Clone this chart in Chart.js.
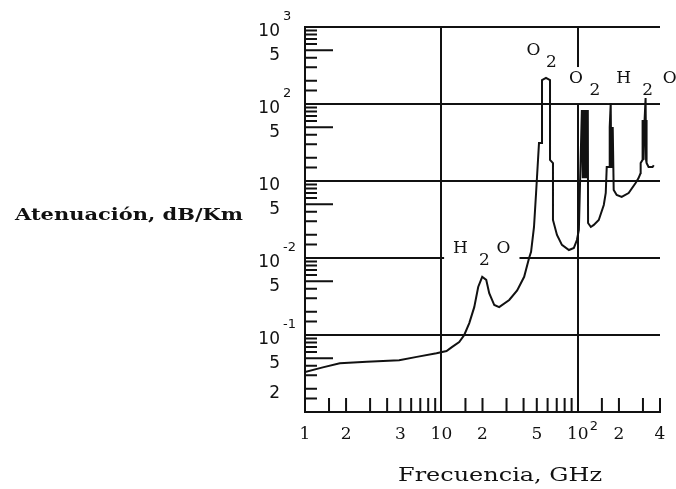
<!DOCTYPE html>
<html>
<head>
<meta charset="utf-8">
<script src="https://cdn.jsdelivr.net/npm/chart.js@4"></script>
<style>
  body { margin: 0; background: #fff; }
  #wrap { width: 676px; height: 489px; }
</style>
</head>
<body>
<div id="wrap"><canvas id="chart" width="676" height="489"></canvas></div>
<script>
// Frecuencia (GHz) y atenuación (dB/Km)
const freq = [
  1, 1.35, 1.8, 2.84, 4.9, 6.6, 9.2, 10.9, 12, 13.5, 14.7, 16, 17.4, 18.6, 19.9,
  21.3, 22.4, 24.4, 26.5, 31.4, 35.9, 40.4, 43.9, 45.4, 47.7, 49.4, 51.9, 54.6,
  54.6, 58.4, 62.5, 62.5, 65.7, 65.7, 70.3, 76.4, 86, 93.5, 98.4, 101.7,
  107, 108.7, 110.6, 112.5, 114.4, 116.3, 118.3, 118.8,
  124.5, 130.9, 142.3, 154.9, 160.1, 162.8, 171.2, 171.2, 174.1, 175.6, 177.1,
  178.6, 180.1, 183.1, 192.6, 209.5, 235.6, 265, 278.6, 288.5, 288.6,
  298.2, 298.2, 303.3, 308.4, 313.6, 316.2, 318.9, 318.9, 329.8, 352.7, 360
];
const aten = [
  0.033, 0.038, 0.043, 0.045, 0.047, 0.052, 0.058, 0.062, 0.07, 0.081, 0.1, 0.143, 0.23, 0.42, 0.57,
  0.52, 0.35, 0.245, 0.23, 0.285, 0.38, 0.57, 1.0, 1.2, 2.53, 6.98, 31.2, 31.2,
  205, 218, 205, 18.8, 17.1, 3.12, 1.99, 1.48, 1.27, 1.35, 1.71, 2.31,
  83.6, 10.9, 83.6, 10.9, 83.6, 10.9, 83.6, 2.85,
  2.53, 2.69, 3.12, 4.88, 6.98, 15.2, 15.2, 50.2, 103, 15.2, 50.2,
  15.2, 50.2, 7.64, 6.58, 6.2, 6.98, 9.42, 10.9, 12.7, 17.1,
  18.8, 62, 18.8, 62, 119.7, 18.8, 62, 17.1, 15.2, 15.2, 16
];

// marcas de los ejes (tal como aparecen impresas)
const yTickValues = [0.02, 0.05, 0.1, 0.5, 1, 5, 10, 50, 100, 500, 1000];
const yTickText   = ['2', '5', '10', '5', '10', '5', '10', '5', '10', '5', '10'];
const yTickExp    = ['', '', '-1', '', '-2', '', '', '', '2', '', '3'];
const xTickValues = [1, 2, 5, 10, 20, 50, 100, 200, 400];
const xTickText   = ['1', '2', '3', '10', '2', '5', '10', '2', '4'];
const xTickExp    = ['', '', '', '', '', '', '2', '', ''];

// rótulos de las líneas de absorción
const peakNames = [
  { parts: [['O', 0, 0], ['2', 18, 12]], f: 47.3, v: 487 },
  { parts: [['O', 0, 0], ['2', 19, 12]], f: 96.7, v: 211 },
  { parts: [['H', 0, 0], ['2', 24, 12], ['O', 46, 0]], f: 216.6, v: 211 },
  { parts: [['H', 0, 0], ['2', 24, 12], ['O', 43, 0]], f: 13.8, v: 1.31 }
];

const INK = '#111';
const labelFont = '17px "DejaVu Serif"';

function peakBox(ctx, p, x, y) {
  let x0 = Infinity, x1 = -Infinity, y0 = Infinity, y1 = -Infinity;
  p.parts.forEach(([t, dx, dy]) => {
    const w = ctx.measureText(t).width;
    x0 = Math.min(x0, x + dx - w / 2);
    x1 = Math.max(x1, x + dx + w / 2);
    y0 = Math.min(y0, y + dy - 7);
    y1 = Math.max(y1, y + dy + 7);
  });
  return { x0: x0 - 9, x1: x1 + 9, y0: y0 - 5, y1: y1 + 5 };
}

const decorations = {
  id: 'decorations',
  beforeDatasetsDraw(chart) {
    const { ctx, chartArea: a, scales: { x, y } } = chart;
    ctx.save();
    ctx.strokeStyle = INK;
    ctx.lineWidth = 2;
    ctx.beginPath();
    const mult = [1.5, 2, 3, 4, 5, 6, 7, 8, 9];
    for (let e = -2; e < 3; e++) {
      mult.forEach(m => {
        const py = y.getPixelForValue(m * Math.pow(10, e));
        ctx.moveTo(a.left, py);
        ctx.lineTo(a.left + (m === 5 ? 28 : 12), py);
      });
    }
    for (let e = 0; e < 3; e++) {
      mult.forEach(m => {
        const v = m * Math.pow(10, e);
        if (v > 400) return;
        const px = x.getPixelForValue(v);
        ctx.moveTo(px, a.bottom);
        ctx.lineTo(px, a.bottom - 14);
      });
    }
    ctx.stroke();

    // fondo blanco de los rótulos (tapa la grilla)
    ctx.font = labelFont;
    ctx.fillStyle = '#fff';
    peakNames.forEach(p => {
      const b = peakBox(ctx, p, x.getPixelForValue(p.f), y.getPixelForValue(p.v));
      ctx.fillRect(b.x0, b.y0, b.x1 - b.x0, b.y1 - b.y0);
    });
    ctx.restore();
  },
  afterDraw(chart) {
    const { ctx, chartArea: a, scales: { x, y } } = chart;
    ctx.save();
    ctx.fillStyle = INK;

    ctx.font = labelFont;
    ctx.textAlign = 'center';
    ctx.textBaseline = 'middle';
    peakNames.forEach(p => {
      const px = x.getPixelForValue(p.f), py = y.getPixelForValue(p.v);
      p.parts.forEach(([t, dx, dy]) => ctx.fillText(t, px + dx, py + dy));
    });

    // exponentes
    ctx.font = '13px "DejaVu Sans"';
    ctx.textAlign = 'left';
    yTickValues.forEach((v, i) => {
      if (yTickExp[i]) ctx.fillText(yTickExp[i], a.left - 22, y.getPixelForValue(v) - 10);
    });
    xTickValues.forEach((v, i) => {
      if (xTickExp[i]) ctx.fillText(xTickExp[i], x.getPixelForValue(v) + 12, a.bottom + 15);
    });

    // títulos de los ejes
    const fitted = (text, font, left, base, width) => {
      ctx.font = font;
      const w = ctx.measureText(text).width;
      ctx.save();
      ctx.translate(left, base);
      ctx.scale(width / w, 1);
      ctx.textAlign = 'left';
      ctx.textBaseline = 'alphabetic';
      ctx.fillText(text, 0, 0);
      ctx.restore();
    };
    fitted('Atenuación, dB/Km', 'bold 17px "DejaVu Serif"', 15, 220, 228);
    fitted('Frecuencia, GHz', '19px "DejaVu Serif"', 398, 481, 204);
    ctx.restore();
  }
};

new Chart(document.getElementById('chart'), {
  type: 'scatter',
  data: {
    datasets: [{
      data: freq.map((f, i) => ({ x: f, y: aten[i] })),
      showLine: true,
      borderColor: INK,
      borderWidth: 2,
      pointRadius: 0,
      tension: 0
    }]
  },
  options: {
    responsive: false,
    animation: false,
    layout: { padding: { top: 27, right: 16, left: 0, bottom: 0 } },
    plugins: { legend: { display: false }, tooltip: { enabled: false } },
    scales: {
      x: {
        type: 'logarithmic',
        min: 1,
        max: 400,
        afterBuildTicks: s => { s.ticks = xTickValues.map(v => ({ value: v })); },
        afterFit: s => { s.height = 77; s.paddingLeft = 0; s.paddingRight = 0; },
        grid: {
          drawTicks: false,
          lineWidth: 2,
          color: c => (c.tick && (c.tick.value === 10 || c.tick.value === 100)) ? INK : 'rgba(0,0,0,0)'
        },
        border: { color: INK, width: 2 },
        ticks: {
          autoSkip: false,
          maxRotation: 0,
          padding: 12,
          color: INK,
          font: { family: 'DejaVu Serif', size: 17 },
          callback: (v, i) => xTickText[i]
        }
      },
      y: {
        type: 'logarithmic',
        min: 0.01,
        max: 1000,
        afterBuildTicks: s => { s.ticks = yTickValues.map(v => ({ value: v })); },
        afterFit: s => { s.width = 305; s.paddingTop = 0; s.paddingBottom = 0; },
        grid: {
          drawTicks: false,
          lineWidth: 2,
          color: c => (c.tick && [0.1, 1, 10, 100, 1000].includes(c.tick.value)) ? INK : 'rgba(0,0,0,0)'
        },
        border: { color: INK, width: 2 },
        ticks: {
          autoSkip: false,
          padding: 25,
          labelOffset: 5,
          color: INK,
          font: { family: 'DejaVu Sans', size: 17 },
          callback: (v, i) => yTickText[i]
        }
      }
    }
  },
  plugins: [decorations]
});
</script>
</body>
</html>
